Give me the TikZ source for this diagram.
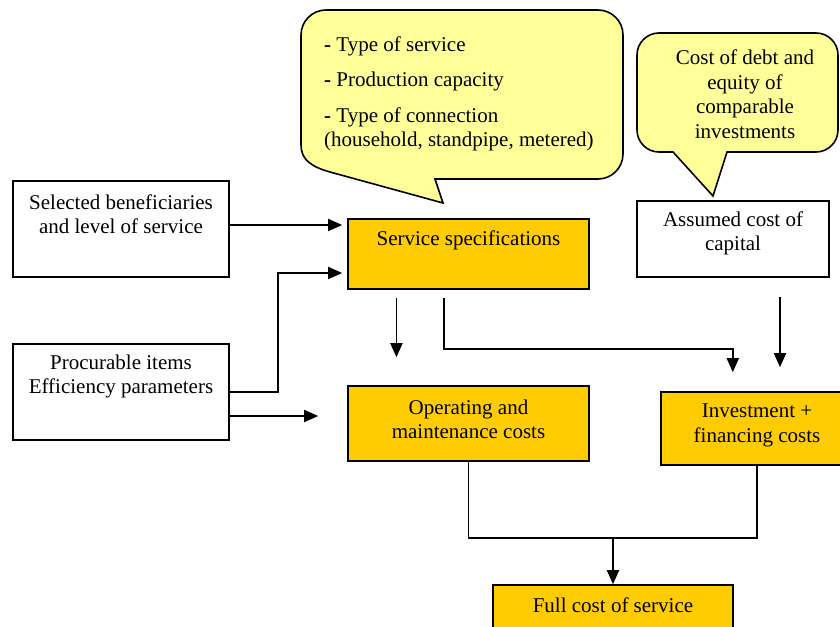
\documentclass[tikz,border=0pt]{standalone}
\usepackage{fontspec}
\setmainfont{Liberation Serif}
\usetikzlibrary{arrows.meta,calc}
\definecolor{boxyellow}{HTML}{FFCC00}
\definecolor{callyellow}{HTML}{FFFF99}
\tikzset{
  plainbox/.style={draw=black,line width=1.6pt,fill=white,inner sep=0pt},
  ybox/.style={draw=black,line width=1.6pt,fill=boxyellow,inner sep=0pt},
  txt/.style={align=center,inner sep=0pt,font=\fontsize{21}{24.5}\selectfont},
  ltxt/.style={align=left,inner sep=0pt,font=\fontsize{21}{24.5}\selectfont},
  callout/.style={draw=black,line width=1.6pt,fill=callyellow},
  conn/.style={draw=black,line width=1.8pt},
  arr/.style={conn,-{Triangle[width=12pt,length=14pt]}}
}
\begin{document}
\begin{tikzpicture}[x=1pt,y=-1pt]
\clip (0,0) rectangle (840,626);
\fill[white] (0,0) rectangle (840,626);

% callouts
\path[callout] (326,10) -- (598,10) arc[start angle=-90,end angle=0,radius=25]
  -- (623,154) arc[start angle=0,end angle=90,radius=25]
  -- (435,179) -- (443,203) -- (330,172)
  .. controls (312,167) and (301,160) .. (301,145)
  -- (301,35) arc[start angle=180,end angle=270,radius=25] -- cycle;
\path[callout] (659,33) -- (816,33) arc[start angle=-90,end angle=0,radius=22]
  -- (838,130) arc[start angle=0,end angle=90,radius=22]
  -- (727,152) -- (713,196) -- (673,152) -- (659,152)
  arc[start angle=90,end angle=180,radius=22]
  -- (637,55) arc[start angle=180,end angle=270,radius=22] -- cycle;

\node[ltxt,anchor=west] (c1txt) at (324,94)
  {\textbf{-} Type of service\\[11pt]\textbf{-} Production capacity\\[11pt]\textbf{-} Type of connection\\(household, standpipe, metered)};
\node[txt] (c2txt) at (745,94) {Cost of debt and\\equity of\\comparable\\investments};

% boxes
\node[plainbox,minimum width=216pt,minimum height=96pt] (sel) at (121,229) {};
\node[plainbox,minimum width=216pt,minimum height=96pt] (proc) at (121,392) {};
\node[ybox,minimum width=241pt,minimum height=70pt] (svc) at (468.5,254) {};
\node[plainbox,minimum width=192pt,minimum height=76pt] (asm) at (733,239) {};
\node[ybox,minimum width=241pt,minimum height=75pt] (opr) at (468.5,423.5) {};
\node[ybox,minimum width=192pt,minimum height=73pt] (inv) at (757,428.5) {};
\node[ybox,minimum width=240pt,minimum height=65pt] (full) at (613,617.5) {};

% texts
\node[txt] (seltxt) at (121,214) {Selected beneficiaries\\and level of service};
\node[txt] (proctxt) at (121,376.5) {Procurable items\\Efficiency parameters};
\node[txt] (svctxt) at (468.5,240) {Service specifications};
\node[txt] (asmtxt) at (733,233.5) {Assumed cost of\\capital};
\node[txt] (oprtxt) at (468.5,419.5) {Operating and\\maintenance costs};
\node[txt] (invtxt) at (757,425.5) {Investment +\\financing costs};
\node[txt] (fulltxt) at (613,605) {Full cost of service};

% connectors
\draw[arr,shorten >=5pt] ([yshift=4pt]sel.east) -- ([yshift=4pt]sel.east -| svc.west);
\draw[arr,shorten >=5pt] (proc.east) -- ++(48,0) |- ([yshift=-19pt]svc.west);
\draw[arr,shorten >=29pt] ([yshift=-24pt]proc.east) -- ([yshift=-24pt]proc.east -| opr.west);
\coordinate (sA) at ($(svc.south west)!0.203!(svc.south east)$);
\coordinate (sB) at ($(svc.south west)!0.40!(svc.south east)$);
\coordinate (iA) at ($(inv.north west)!0.375!(inv.north east)$);
\draw[arr,shorten <=8pt,shorten >=28pt] (sA) -- (sA |- opr.north);
\draw[arr,shorten <=8pt,shorten >=19pt] (sB) -- ++(0,59) -| (iA);
\draw[arr,shorten <=19pt,shorten >=24pt] ([xshift=47pt]asm.south) -- ([xshift=47pt]asm.south |- inv.north);
\draw[conn] (opr.south) -- ++(0,76) coordinate (mid) -| (inv.south);
\draw[arr] (mid -| full.north) -- (full.north);
\end{tikzpicture}
\end{document}
